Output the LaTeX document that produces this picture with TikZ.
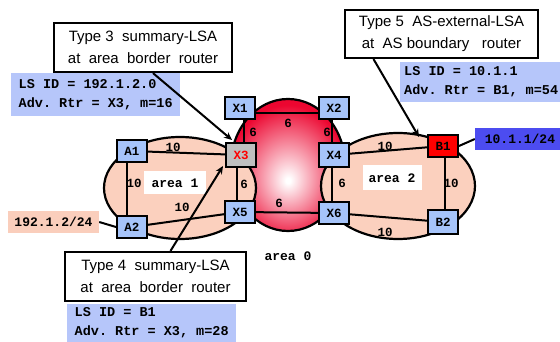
\documentclass[tikz,border=0pt]{standalone}
\usepackage{fontspec}
\setmainfont{Liberation Sans}
\newfontfamily\codefont{Liberation Mono}[WordSpace={1,0,0}]
\usetikzlibrary{arrows.meta}
\definecolor{peach}{RGB}{251,208,190}
\definecolor{bbred}{RGB}{236,6,48}
\definecolor{rtrblue}{RGB}{166,196,250}
\definecolor{infoblue}{RGB}{182,198,250}
\definecolor{netblue}{RGB}{76,76,240}
\definecolor{netpeach}{RGB}{250,206,188}
\pgfdeclareradialshading{backbone}{\pgfpoint{0bp}{-6bp}}{color(0bp)=(white); color(1bp)=(white); color(26bp)=(bbred); color(56bp)=(bbred)}
\pgfdeclarelayer{bg}
\pgfdeclarelayer{links}
\pgfsetlayers{bg,links,main}
\begin{document}
\frenchspacing
\begin{tikzpicture}[x=1pt,y=-1pt,
  router/.style={draw,line width=2pt,fill=rtrblue,minimum width=30pt,minimum height=22pt,inner sep=0pt,
    font=\codefont\bfseries\fontsize{12.5}{12}\selectfont},
  cost/.style={font=\codefont\bfseries\fontsize{12.5}{12}\selectfont,inner sep=1pt},
  link/.style={line width=2pt},
  lsa/.style={draw,line width=2.2pt,fill=white,align=center,inner sep=0pt,
    font=\fontsize{15}{22}\selectfont},
  info/.style={fill=infoblue,align=left,anchor=west,inner xsep=6pt,inner ysep=0pt,
    font=\codefont\bfseries\fontsize{13.5}{19}\selectfont\frenchspacing},
  netbox/.style={inner sep=0pt,minimum height=22pt,font=\codefont\bfseries\fontsize{13}{13}\selectfont},
  arealabel/.style={fill=white,inner sep=0pt,font=\codefont\bfseries\fontsize{13}{13}\selectfont},
  pointer/.style={line width=2pt,-{Stealth[length=8pt,width=7pt]}},
]
\useasboundingbox (0,0) rectangle (560,342);

% areas: backbone first, the two stub areas over it
\begin{pgfonlayer}{bg}
  \shadedraw[shading=backbone,line width=2.2pt] (288,165) ellipse [x radius=57pt,y radius=66pt];
  \filldraw[fill=peach,line width=2.2pt] (180,188) ellipse [x radius=76pt,y radius=51pt];
  \filldraw[fill=peach,line width=2.2pt] (398,186) ellipse [x radius=77pt,y radius=53pt];
\end{pgfonlayer}

% routers
\node[router] (X1) at (240,108) {X1};
\node[router] (X2) at (334,108) {X2};
\node[router,fill=gray!50,text=red,minimum height=24pt] (X3) at (241,155) {X3};
\node[router,minimum height=24pt] (X4) at (334,155) {X4};
\node[router] (X5) at (240,212) {X5};
\node[router] (X6) at (334,213) {X6};
\node[router] (A1) at (132,151) {A1};
\node[router] (A2) at (132,227) {A2};
\node[router,fill=red] (B1) at (443,146) {B1};
\node[router,minimum height=24pt] (B2) at (443,222) {B2};

% attached networks
\node[netbox,fill=netpeach,minimum width=91pt] (N1) at (53.5,222) {192.1.2/24};
\node[netbox,fill=netblue,minimum width=90pt] (N2) at (520,139) {10.1.1/24};

% area labels
\node[arealabel,minimum width=62pt,minimum height=23pt] (L1) at (175,183) {area 1};
\node[arealabel,minimum width=59pt,minimum height=25pt] (L2) at (392,178) {area 2};
\node[arealabel,fill=none] (L0) at (288,256) {area 0};

% links with their costs
\begin{pgfonlayer}{links}
  \draw[link] ([yshift=-5pt]X1.center) -- ([yshift=-5pt]X2.center);
  \draw[link] ([xshift=4pt]X1.south) -- ([xshift=3pt]X3.north);
  \draw[link] ([xshift=-2pt]X2.south) -- ([xshift=-2pt]X4.north);
  \draw[link] ([xshift=-4pt]X3.south) -- ([xshift=-3pt]X5.north);
  \draw[link] ([xshift=-2pt]X4.south) -- ([xshift=-2pt]X6.south);
  \draw[link] (X5) -- (X6);
  \draw[link] (A1) -- (X3);
  \draw[link] ([xshift=-5pt]A1.south) -- ([xshift=-5pt]A2.north);
  \draw[link] (A2) -- (X5);
  \draw[link] (X4) -- (B1);
  \draw[link] ([xshift=2pt]B1.south) -- ([xshift=2pt]B2.north);
  \draw[link] (X6) -- (B2);
  \draw[link] (N1.east) -- (A2.west);
  \draw[link] (B1.east) -- (N2.west);
\end{pgfonlayer}
\node[cost] at (288,123) {6};
\node[cost] at (253,132) {6};
\node[cost] at (327,132) {6};
\node[cost] at (244,184) {6};
\node[cost] at (342,183) {6};
\node[cost] at (279,203) {6};
\node[cost] at (173,147) {10};
\node[cost] at (134,183) {10};
\node[cost] at (182,207) {10};
\node[cost] at (385,146) {10};
\node[cost] at (451,183) {10};
\node[cost] at (385,232) {10};

% LSA callouts
\node[lsa,minimum width=178pt,minimum height=49pt] (T3) at (143,47.5)
  {Type 3\ \ summary-LSA\\ at\ \ area\ \ border\ \ router};
\node[lsa,minimum width=181pt,minimum height=49pt] (T4) at (155.5,276.5)
  {Type 4\ \ summary-LSA\\ at\ \ area\ \ border\ \ router};
\node[lsa,minimum width=193pt,minimum height=48pt] (T5) at (441.5,34)
  {Type 5\ \ AS-external-LSA\\ at\ \ AS boundary\ \ \ router};

% LSA contents
\node[info,minimum width=169pt,minimum height=43pt] (I3) at (11,94.5) {LS ID = 192.1.2.0\\Adv. Rtr = X3, m=16};
\node[info,minimum width=169pt,minimum height=38pt] (I4) at (67,323) {LS ID = B1\\Adv. Rtr = X3, m=28};
\node[info,minimum height=40pt,inner xsep=4pt] (I5) at (400,82) {LS ID = 10.1.1\\Adv. Rtr = B1, m=54};

\draw[pointer] ([xshift=10pt]T3.south) -- ([xshift=7pt,yshift=2pt]X3.north west);
\draw[pointer] ([xshift=15pt]T4.north) -- ([xshift=-2pt,yshift=2pt]X3.south west);
\draw[pointer] ([xshift=-68pt]T5.south) -- ([xshift=-8pt,yshift=-3pt]B1.north west);
\end{tikzpicture}
\end{document}
